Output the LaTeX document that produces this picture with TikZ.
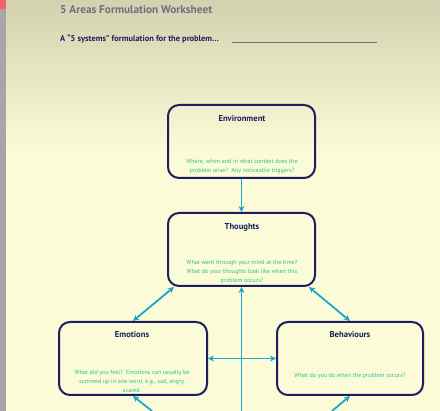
\documentclass[tikz,border=0pt]{standalone}
\usepackage{fontspec}
\setmainfont{PT Sans}
\usetikzlibrary{arrows.meta,calc}
\definecolor{bgyellow}{HTML}{FBFBD8}
\definecolor{bgtop}{HTML}{D2D2B0}
\definecolor{navy}{HTML}{1B1F5E}
\definecolor{cyanline}{HTML}{1EA5CF}
\definecolor{greentext}{HTML}{2BC08E}
\definecolor{graytitle}{HTML}{6E6E80}
\definecolor{stripgray}{HTML}{A6A6AA}
\definecolor{stripred}{HTML}{F26262}
\tikzset{
  areabox/.style={draw=navy, line width=2pt, rounded corners=11pt, minimum width=#1, minimum height=73pt, inner sep=0pt},
  areatitle/.style={text=navy, font=\fontsize{8.6}{9}\selectfont\bfseries, inner sep=0pt},
  areabody/.style={text=greentext, font=\fontsize{6.1}{9}\selectfont, align=center, inner sep=0pt},
  link/.style={draw=cyanline, line width=1.8pt, -{Stealth[length=6pt,width=6pt]}},
  dlink/.style={draw=cyanline, line width=1.8pt, {Stealth[length=6pt,width=6pt]}-{Stealth[length=6pt,width=6pt]}},
}
\begin{document}
\begin{tikzpicture}[x=1pt,y=1pt]
\useasboundingbox (0,0) rectangle (440,411);
% background (y measured upward here)
\fill[bgyellow] (0,0) rectangle (440,411);
\shade[top color=bgtop, bottom color=bgyellow] (0,260) rectangle (440,411);
\fill[stripgray] (0,0) rectangle (6,411);
\fill[stripred] (0,402) rectangle (6,411);
\begin{scope}[y=-1pt, yshift=411pt]
% headings
\node[anchor=west, text=graytitle, font=\fontsize{11.3}{13}\selectfont\bfseries, inner sep=0pt] (title) at (60,10) {5 Areas Formulation Worksheet};
\node[anchor=west, text=navy, font=\fontsize{8.4}{9}\selectfont\bfseries, inner sep=0pt] (subtitle) at (60,39) {A ``5 systems'' formulation for the problem\ldots};
\coordinate (blankA) at (232,42);
\coordinate (blankB) at (377,42);
\draw[graytitle, line width=0.9pt] (blankA) -- (blankB);
% boxes
\node[areabox=147pt] (env) at (241.5,141.5) {};
\node[areabox=147pt] (thoughts) at (241.5,249.5) {};
\node[areabox=148pt] (emotions) at (133,358.5) {};
\node[areabox=146pt] (behaviours) at (350,358.5) {};
% titles
\node[areatitle] (envT) at (242,119) {Environment};
\node[areatitle] (thT) at (242,227) {Thoughts};
\node[areatitle] (emT) at (132,335) {Emotions};
\node[areatitle] (beT) at (350,335) {Behaviours};
% body texts
\node[areabody] (envB) at (242,166.5) {Where, when and in what context does the\\problem arise?\ \ Any noticeable triggers?};
\node[areabody] (thB) at (242,272) {What went through your mind at the time?\\What do your thoughts look like when this\\problem occurs?};
\node[areabody] (emB) at (132,381) {What did you feel?\ \ Emotions can usually be\\summed up in one word, e.g., sad, angry,\\scared.};
\node[areabody] (beB) at (350,376) {What do you do when the problem occurs?};
% connectors
\draw[link] (env.south) -- (thoughts.north);
\draw[dlink] ($(thoughts.south west)+(7,0)$) -- (emotions.north);
\draw[dlink] ($(thoughts.south east)+(-7,0)$) -- (behaviours.north);
\draw[dlink] (emotions.east) -- (behaviours.west);
\coordinate (phys) at (241.5,411);
\coordinate (physL) at (152,411);
\coordinate (physR) at (332,411);
\draw[link] (phys) -- (thoughts.south);
\draw[link] (physL) -- (emotions.south);
\draw[link] (physR) -- (behaviours.south);
\end{scope}
\end{tikzpicture}
\end{document}
